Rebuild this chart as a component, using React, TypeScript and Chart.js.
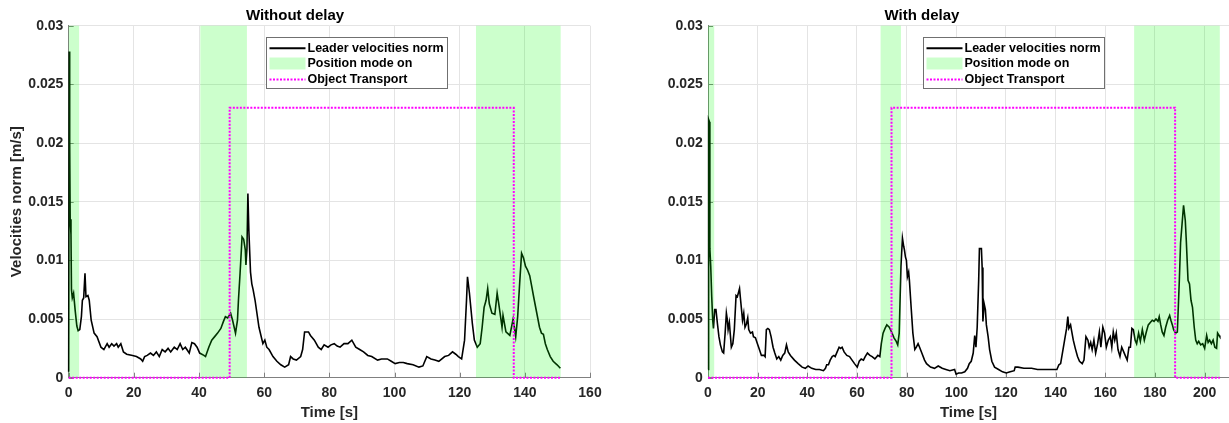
import React, { useEffect, useRef } from 'react';
import { Chart, registerables } from 'chart.js';

Chart.register(...registerables);

// ---------------- DATA ----------------
const xTickStep = 20;
const yTickStep = 0.005;
const yMax = 0.03;
const legendLabels = ['Leader velocities norm', 'Position mode on', 'Object Transport'];
const xAxisTitle = 'Time [s]';
const yAxisTitle = 'Velocities norm [m/s]';

// Left panel: "Without delay"
const leftTitle = 'Without delay';
const leftXMax = 160;
const leftTimes = [
  0, 0.15, 0.3, 0.45, 0.7, 0.85, 1.1, 1.5, 2.0, 2.5, 2.9, 3.4, 3.9, 4.2, 4.6, 5.0, 5.3, 5.9, 6.3, 6.9,
  7.8, 8.7, 9.9, 10.8, 11.8, 12.4, 13.2, 13.9, 14.7, 15.2, 16.0, 16.8, 17.8, 19.6, 20.8, 22.1, 22.7, 23.3, 24.1, 25.1,
  26.0, 26.9, 27.8, 28.7, 29.6, 30.5, 31.3, 32.4, 33.3, 34.2, 35.0, 35.8, 37.0, 37.8, 38.6, 39.4, 40.2, 41.5, 42.0, 43.0,
  43.9, 44.8, 45.7, 46.7, 47.5, 48.1, 48.8, 49.7, 50.3, 51.2, 51.8, 52.1, 52.6, 53.0, 53.2, 53.7, 54.2, 54.4, 54.7, 55.0,
  55.3, 55.8, 56.2, 56.6, 57.2, 58.4, 59.6, 60.2, 60.8, 61.5, 62.7, 63.9, 65.1, 66.3, 67.5, 68.1, 68.9, 69.9, 71.2, 71.8,
  72.4, 73.6, 74.2, 75.4, 76.6, 77.5, 78.4, 79.6, 80.5, 81.5, 82.4, 83.3, 84.5, 85.7, 86.9, 88.1, 89.3, 90.5, 91.8, 93.0,
  94.8, 96.0, 97.8, 99.0, 100.2, 101.5, 102.7, 103.9, 105.7, 107.5, 108.7, 109.9, 111.2, 112.4, 113.6, 115.4, 116.6, 117.8, 118.8, 119.6,
  120.6, 121.5, 122.1, 122.4, 123.0, 123.9, 124.5, 125.4, 126.3, 126.9, 127.5, 128.1, 128.6, 129.1, 129.9, 130.8, 131.5, 132.0, 132.4, 133.0,
  133.3, 134.2, 135.4, 136.4, 137.2, 137.8, 138.4, 139.0, 139.6, 140.2, 140.8, 141.5, 142.1, 142.7, 143.6, 144.5, 145.1, 145.7, 146.3, 146.9,
  147.8, 148.7, 149.9, 150.9,
];
const leftVelocity = [
  0.0005, 0.0278, 0.02, 0.0135, 0.0122, 0.0075, 0.0068, 0.0072, 0.0057, 0.0044, 0.004, 0.0041, 0.0052, 0.0066, 0.0068, 0.0089, 0.0069, 0.007, 0.0066, 0.0049,
  0.0038, 0.0035, 0.0026, 0.0024, 0.0029, 0.0026, 0.0029, 0.0027, 0.0029, 0.0026, 0.0029, 0.0022, 0.002, 0.0019, 0.0018, 0.0016, 0.0014, 0.0018, 0.0019, 0.0021,
  0.0019, 0.0022, 0.0018, 0.0024, 0.0022, 0.0025, 0.0022, 0.0026, 0.0024, 0.0029, 0.0024, 0.0026, 0.0021, 0.003, 0.0029, 0.0026, 0.0021, 0.0019, 0.0018, 0.0026,
  0.0032, 0.0035, 0.0038, 0.0042, 0.0048, 0.0052, 0.0051, 0.0055, 0.0049, 0.0038, 0.0049, 0.0066, 0.0089, 0.0109, 0.012, 0.0118, 0.0109, 0.0096, 0.011, 0.0157,
  0.0125, 0.009, 0.008, 0.0075, 0.0066, 0.0043, 0.0029, 0.0032, 0.0026, 0.0024, 0.0018, 0.0014, 0.0011, 0.0009, 0.0011, 0.0018, 0.0016, 0.0015, 0.0018, 0.0024,
  0.0039, 0.0039, 0.0036, 0.0032, 0.0026, 0.0024, 0.0028, 0.0026, 0.0028, 0.0029, 0.0027, 0.0026, 0.0029, 0.0029, 0.0032, 0.0026, 0.0024, 0.0022, 0.0019, 0.0018,
  0.0015, 0.0016, 0.0016, 0.0014, 0.0012, 0.0013, 0.0013, 0.0012, 0.0011, 0.0009, 0.001, 0.0018, 0.0016, 0.0015, 0.0014, 0.0018, 0.0019, 0.0022, 0.002, 0.0018,
  0.0016, 0.0032, 0.0066, 0.0086, 0.0072, 0.0046, 0.0032, 0.0026, 0.0029, 0.0043, 0.006, 0.0066, 0.0076, 0.0063, 0.0055, 0.0054, 0.0072, 0.0063, 0.0055, 0.0043,
  0.0053, 0.0039, 0.0036, 0.005, 0.0035, 0.0052, 0.008, 0.0106, 0.0102, 0.0095, 0.0092, 0.0087, 0.0078, 0.0069, 0.0056, 0.0043, 0.0038, 0.0037, 0.0029, 0.0024,
  0.0018, 0.0014, 0.0011, 0.0008,
];
const leftBandStarts = [0, 40.4, 125.0];
const leftBandEnds = [3.2, 54.7, 151.0];
const leftTransportTimes = [0, 49.4, 49.4, 136.6, 136.6, 151.0];
const leftTransportValues = [0, 0, 0.023, 0.023, 0, 0];

// Right panel: "With delay"
const rightTitle = 'With delay';
const rightXMax = 209.8;
const rightTimes = [
  0, 0.25, 0.6, 0.75, 1.1, 1.5, 1.9, 2.2, 2.7, 3.2, 3.8, 4.4, 5.0, 5.8, 6.3, 6.9, 7.4, 7.8, 8.1, 8.6,
  9.4, 10.0, 10.6, 11.3, 11.8, 12.2, 12.7, 13.0, 13.5, 13.9, 14.4, 14.9, 15.5, 16.0, 16.4, 17.1, 17.9, 18.3, 19.1, 19.9,
  20.7, 21.5, 22.6, 23.0, 23.5, 24.1, 24.7, 25.4, 26.2, 26.9, 27.7, 28.5, 29.3, 30.1, 30.9, 31.6, 32.3, 33.2, 34.8, 36.3,
  37.9, 39.2, 40.3, 41.8, 43.4, 44.9, 46.5, 47.3, 47.8, 48.5, 49.2, 50.0, 50.7, 51.2, 52.0, 52.8, 53.4, 54.0, 54.8, 55.9,
  57.0, 58.0, 59.0, 60.1, 60.9, 61.7, 62.6, 63.3, 64.2, 65.2, 66.1, 67.2, 68.4, 69.2, 69.8, 70.5, 71.3, 72.0, 73.0, 73.9,
  74.9, 75.8, 76.4, 77.0, 77.7, 78.3, 78.8, 79.1, 79.5, 79.9, 80.3, 80.8, 81.1, 81.8, 82.5, 83.3, 83.9, 84.6, 85.2, 86.1,
  87.2, 88.0, 89.6, 91.2, 92.7, 94.3, 95.8, 97.4, 99.3, 99.9, 100.9, 102.1, 103.4, 104.5, 105.2, 106.0, 106.8, 107.4, 107.9, 108.4,
  109.0, 109.3, 110.1, 110.4, 110.7, 111.2, 111.7, 112.1, 112.8, 113.4, 114.3, 115.4, 117.0, 118.6, 120.1, 121.7, 123.3, 123.7, 124.8, 127.2,
  130.3, 132.7, 135.0, 138.1, 140.5, 141.3, 142.0, 142.8, 143.6, 144.4, 144.9, 145.3, 146.0, 146.5, 147.1, 147.9, 148.8, 149.6, 150.7, 151.4,
  152.2, 153.0, 153.5, 154.1, 154.7, 155.4, 156.1, 156.9, 157.6, 158.2, 159.0, 159.7, 160.4, 161.2, 162.0, 162.6, 163.2, 163.8, 164.4, 165.1,
  165.9, 166.6, 167.4, 168.2, 168.8, 169.5, 170.1, 170.7, 171.3, 172.0, 172.6, 173.4, 174.1, 174.9, 175.7, 176.5, 177.3, 178.1, 178.9, 179.6,
  180.4, 181.2, 181.7, 182.3, 182.9, 183.6, 184.3, 185.1, 185.9, 186.4, 187.0, 187.5, 188.3, 189.0, 189.8, 190.3, 190.9, 191.5, 192.2, 192.6,
  193.3, 193.9, 194.5, 195.1, 195.8, 196.4, 197.0, 197.6, 198.4, 199.2, 200.0, 200.8, 201.4, 202.0, 202.7, 203.4, 204.1, 204.8, 205.2, 205.8,
  206.1,
];
const rightVelocity = [
  0.0007, 0.022, 0.0218, 0.011, 0.0095, 0.0069, 0.0049, 0.0042, 0.0058, 0.0058, 0.0046, 0.0035, 0.0028, 0.0022, 0.0021, 0.0038, 0.0055, 0.0049, 0.0041, 0.0047,
  0.0026, 0.0029, 0.0041, 0.007, 0.0069, 0.0072, 0.0076, 0.0069, 0.0058, 0.0049, 0.0055, 0.0043, 0.0046, 0.0051, 0.0041, 0.0038, 0.0039, 0.0035, 0.0034, 0.0029,
  0.0024, 0.0019, 0.0019, 0.0018, 0.0041, 0.0042, 0.0041, 0.0035, 0.0026, 0.0021, 0.0016, 0.0018, 0.0015, 0.0019, 0.0021, 0.0028, 0.0022, 0.0019, 0.0015, 0.0012,
  0.0009, 0.0008, 0.001, 0.0008, 0.0007, 0.0007, 0.0006, 0.0008, 0.0011, 0.0011, 0.0015, 0.0018, 0.0019, 0.0018, 0.0022, 0.0026, 0.0025, 0.0026, 0.0022, 0.0019,
  0.0018, 0.0015, 0.0012, 0.0009, 0.0014, 0.0016, 0.0015, 0.0018, 0.0021, 0.0019, 0.0018, 0.0016, 0.0019, 0.0018, 0.0029, 0.0038, 0.0042, 0.0045, 0.0043, 0.0039,
  0.0034, 0.0031, 0.0028, 0.0038, 0.0095, 0.0119, 0.0112, 0.0109, 0.0103, 0.01, 0.0086, 0.009, 0.0083, 0.006, 0.0038, 0.0024, 0.0026, 0.0029, 0.0026, 0.0021,
  0.0015, 0.0012, 0.0009, 0.0008, 0.001, 0.0008, 0.0007, 0.0006, 0.0007, 0.0003, 0.0004, 0.0004, 0.0005, 0.0008, 0.0012, 0.0014, 0.0021, 0.0036, 0.0026, 0.0043,
  0.0083, 0.011, 0.011, 0.0094, 0.0048, 0.0063, 0.0058, 0.0045, 0.0035, 0.0024, 0.0014, 0.0009, 0.0007, 0.0005, 0.0004, 0.0005, 0.0006, 0.0009, 0.0009, 0.0008,
  0.0008, 0.0007, 0.0007, 0.0007, 0.0007, 0.0011, 0.0012, 0.0022, 0.0032, 0.0042, 0.0052, 0.0042, 0.0045, 0.0039, 0.0032, 0.0025, 0.0018, 0.0014, 0.0012, 0.0015,
  0.0035, 0.0032, 0.0026, 0.003, 0.0024, 0.0032, 0.0021, 0.0029, 0.0039, 0.0026, 0.0043, 0.0038, 0.0026, 0.0032, 0.0035, 0.0026, 0.0039, 0.0032, 0.0038, 0.0024,
  0.0018, 0.0026, 0.0022, 0.0018, 0.0015, 0.0026, 0.0026, 0.0042, 0.0041, 0.0032, 0.0029, 0.0038, 0.0031, 0.0041, 0.0032, 0.0039, 0.0045, 0.0047, 0.0049, 0.0048,
  0.005, 0.0048, 0.0052, 0.0045, 0.0039, 0.0036, 0.0043, 0.0049, 0.0053, 0.0049, 0.0045, 0.0041, 0.0038, 0.0039, 0.0083, 0.0115, 0.0131, 0.0147, 0.0134, 0.0117,
  0.0083, 0.008, 0.0066, 0.006, 0.0043, 0.0032, 0.0029, 0.0031, 0.0028, 0.0029, 0.0025, 0.0036, 0.003, 0.0032, 0.0029, 0.0032, 0.0026, 0.0025, 0.0038, 0.0036,
  0.0035,
];
const rightBandStarts = [0, 69.5, 171.6];
const rightBandEnds = [2.5, 77.7, 206.1];
const rightTransportTimes = [0, 73.9, 73.9, 188.1, 188.1, 206.1];
const rightTransportValues = [0, 0, 0.023, 0.023, 0, 0];

// ---------------- STYLE ----------------
const FONT = "'Liberation Sans', Arial, Helvetica, sans-serif";
const AXIS_COLOR = '#808080';
const GRID_COLOR = '#e4e4e4';
const TEXT_COLOR = '#262626';
const BAND_COLOR = 'rgba(0,255,0,0.2)';
const TRANSPORT_COLOR = '#ff00ff';

const matlabPlugin = {
  id: 'matlab',
  beforeDatasetsDraw(chart: any) {
    const { ctx, chartArea, scales } = chart;
    ctx.save();
    ctx.strokeStyle = AXIS_COLOR;
    ctx.lineWidth = 1;
    ctx.beginPath();
    for (const t of scales.x.ticks) {
      const px = Math.round(scales.x.getPixelForValue(t.value)) + 0.5;
      ctx.moveTo(px, chartArea.bottom);
      ctx.lineTo(px, chartArea.bottom - 5);
    }
    for (const t of scales.y.ticks) {
      const py = Math.round(scales.y.getPixelForValue(t.value)) + 0.5;
      ctx.moveTo(chartArea.left, py);
      ctx.lineTo(chartArea.left + 5, py);
    }
    ctx.stroke();
    ctx.restore();
  },
  afterDatasetDraw(chart: any, args: any, opts: any) {
    if (args.index !== opts.bandAfterIndex) return;
    const { ctx, chartArea, scales } = chart;
    ctx.save();
    ctx.fillStyle = BAND_COLOR;
    opts.bandStarts.forEach((s: number, i: number) => {
      const x0 = scales.x.getPixelForValue(s);
      const x1 = scales.x.getPixelForValue(opts.bandEnds[i]);
      ctx.fillRect(x0, chartArea.top, x1 - x0, chartArea.bottom - chartArea.top);
    });
    ctx.restore();
  },
  afterDraw(chart: any, _args: any, opts: any) {
    const { ctx, chartArea } = chart;
    const x0 = Math.round(chartArea.left + opts.legendOffsetX) + 0.5;
    const y0 = Math.round(opts.legendTop) + 0.5;
    const w = opts.legendWidth;
    const h = opts.legendHeight;
    ctx.save();
    ctx.fillStyle = '#ffffff';
    ctx.fillRect(x0, y0, w, h);
    ctx.strokeStyle = '#707070';
    ctx.lineWidth = 1;
    ctx.strokeRect(x0, y0, w, h);
    const rowY = [10.7, 26, 42];
    const sx0 = x0 + 3;
    const sx1 = x0 + 39;
    ctx.strokeStyle = '#000';
    ctx.lineWidth = 2;
    ctx.beginPath();
    ctx.moveTo(sx0, y0 + rowY[0]);
    ctx.lineTo(sx1, y0 + rowY[0]);
    ctx.stroke();
    ctx.fillStyle = BAND_COLOR;
    ctx.fillRect(sx0, y0 + rowY[1] - 6, sx1 - sx0, 12);
    ctx.strokeStyle = TRANSPORT_COLOR;
    ctx.lineWidth = 2;
    ctx.setLineDash([2, 1.5]);
    ctx.beginPath();
    ctx.moveTo(sx0, y0 + rowY[2]);
    ctx.lineTo(sx1, y0 + rowY[2]);
    ctx.stroke();
    ctx.setLineDash([]);
    ctx.fillStyle = '#000';
    ctx.font = `bold 12.5px ${FONT}`;
    ctx.textBaseline = 'middle';
    ctx.textAlign = 'left';
    opts.labels.forEach((lab: string, i: number) => {
      ctx.fillText(lab, x0 + 41, y0 + rowY[i] + 0.5);
    });
    ctx.restore();
  },
};

const buildTicks = (step: number) => (scale: any) => {
  const arr: { value: number }[] = [];
  const n = Math.floor(scale.max / step + 1e-9);
  for (let i = 0; i <= n; i++) arr.push({ value: +(i * step).toFixed(6) });
  scale.ticks = arr;
};

type PanelProps = {
  title: string;
  times: number[];
  velocity: number[];
  bandStarts: number[];
  bandEnds: number[];
  transportTimes: number[];
  transportValues: number[];
  xMax: number;
  yAxisWidth: number;
  showYTitle: boolean;
  padRight: number;
  legendOffsetX: number;
  width: number;
  height: number;
};

function Panel(p: PanelProps) {
  const ref = useRef<HTMLCanvasElement | null>(null);
  useEffect(() => {
    if (!ref.current) return;
    const chart = new Chart(ref.current, {
      type: 'line',
      data: {
        datasets: [
          {
            label: legendLabels[2],
            data: p.transportTimes.map((t, i) => ({ x: t, y: p.transportValues[i] })),
            borderColor: TRANSPORT_COLOR,
            borderWidth: 2,
            borderDash: [2, 1.5],
            pointRadius: 0,
            tension: 0,
            clip: false as any,
          },
          {
            label: legendLabels[0],
            data: p.times.map((t, i) => ({ x: t, y: p.velocity[i] })),
            borderColor: '#000000',
            borderWidth: 1.6,
            pointRadius: 0,
            tension: 0,
            clip: false as any,
          },
        ],
      },
      options: {
        responsive: false,
        animation: false,
        devicePixelRatio: 1,
        events: [],
        layout: { padding: { left: 0, right: p.padRight, top: 0, bottom: 0 } },
        plugins: {
          legend: { display: false },
          tooltip: { enabled: false },
          title: {
            display: true,
            text: p.title,
            color: '#000',
            font: { family: FONT, size: 15, weight: 'bold', lineHeight: 1.2 },
            padding: { top: 6.5, bottom: 1.2 },
          },
          matlab: {
            bandAfterIndex: 1,
            bandStarts: p.bandStarts,
            bandEnds: p.bandEnds,
            legendOffsetX: p.legendOffsetX,
            legendTop: 37,
            legendWidth: 181,
            legendHeight: 51,
            labels: legendLabels,
          },
        } as any,
        scales: {
          x: {
            type: 'linear',
            min: 0,
            max: p.xMax,
            afterBuildTicks: buildTicks(xTickStep),
            afterFit: (s: any) => {
              s.height = 45.3;
            },
            ticks: {
              stepSize: xTickStep,
              autoSkip: false,
              color: TEXT_COLOR,
              font: { family: FONT, size: 14, weight: 'bold' },
              padding: 7,
              maxRotation: 0,
              callback: (v: any) => String(v),
            },
            grid: { color: GRID_COLOR, drawTicks: false, lineWidth: 1 },
            border: { display: true, color: AXIS_COLOR, width: 1 },
            title: {
              display: true,
              text: xAxisTitle,
              color: TEXT_COLOR,
              font: { family: FONT, size: 15, weight: 'bold', lineHeight: 1.2 },
              padding: { top: 0, bottom: 1.5 },
            },
          },
          y: {
            type: 'linear',
            min: 0,
            max: yMax,
            afterBuildTicks: buildTicks(yTickStep),
            afterFit: (s: any) => {
              s.width = p.yAxisWidth;
            },
            ticks: {
              stepSize: yTickStep,
              autoSkip: false,
              color: TEXT_COLOR,
              font: { family: FONT, size: 14, weight: 'bold' },
              padding: 5.3,
              callback: (v: any) => String(+Number(v).toFixed(4)),
            },
            grid: { color: GRID_COLOR, drawTicks: false, lineWidth: 1 },
            border: { display: true, color: AXIS_COLOR, width: 1 },
            title: {
              display: p.showYTitle,
              text: yAxisTitle,
              color: TEXT_COLOR,
              font: { family: FONT, size: 15, weight: 'bold', lineHeight: 1.2 },
              padding: { top: 8, bottom: 0 },
            },
          },
        },
      } as any,
      plugins: [matlabPlugin as any],
    });
    return () => chart.destroy();
  }, []);
  return <canvas ref={ref} width={p.width} height={p.height} style={{ display: 'block', width: p.width, height: p.height }} />;
}

export default function App() {
  return (
    <div style={{ position: 'absolute', left: 0, top: 0, width: 1229, height: 423, background: '#ffffff', overflow: 'hidden' }}>
      <div style={{ position: 'absolute', left: 0, top: 0 }}>
        <Panel
          title={leftTitle}
          times={leftTimes}
          velocity={leftVelocity}
          bandStarts={leftBandStarts}
          bandEnds={leftBandEnds}
          transportTimes={leftTransportTimes}
          transportValues={leftTransportValues}
          xMax={leftXMax}
          yAxisWidth={68.7}
          showYTitle={true}
          padRight={24}
          legendOffsetX={197.3}
          width={614}
          height={423}
        />
      </div>
      <div style={{ position: 'absolute', left: 615, top: 0 }}>
        <Panel
          title={rightTitle}
          times={rightTimes}
          velocity={rightVelocity}
          bandStarts={rightBandStarts}
          bandEnds={rightBandEnds}
          transportTimes={rightTransportTimes}
          transportValues={rightTransportValues}
          xMax={rightXMax}
          yAxisWidth={93}
          showYTitle={false}
          padRight={0}
          legendOffsetX={214.5}
          width={614}
          height={423}
        />
      </div>
    </div>
  );
}
